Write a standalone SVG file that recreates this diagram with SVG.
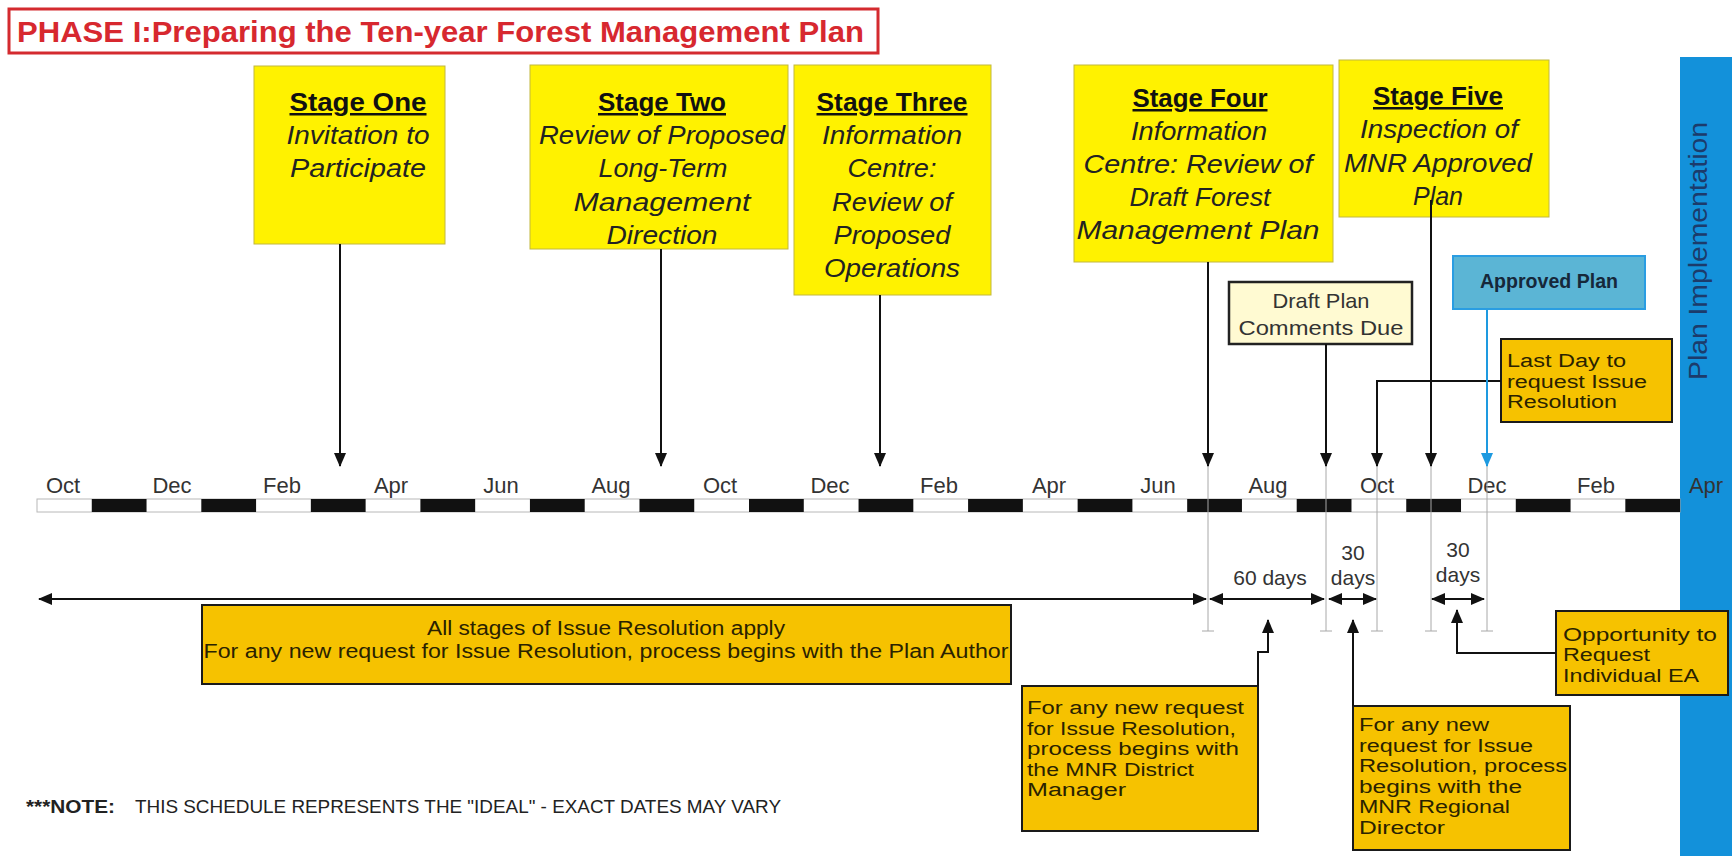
<svg xmlns="http://www.w3.org/2000/svg" width="1732" height="856" viewBox="0 0 1732 856">
  <defs>
    <style>
      text { font-family: "Liberation Sans", Arial, sans-serif; }
      .stage rect { fill: #FFF200; stroke: #C2B83E; stroke-width: 1; }
      .st-title { font-size: 25px; font-weight: bold; fill: #111; text-anchor: middle; text-decoration: underline; }
      .st-line { font-size: 25px; font-style: italic; fill: #222; text-anchor: middle; }
      .note-box rect { fill: #F6C200; stroke: #1a1a1a; stroke-width: 2; }
      .note-box text { font-size: 18px; fill: #2a2200; }
      .month { font-size: 22px; fill: #333; text-anchor: middle; }
      .days { font-size: 21px; fill: #333; text-anchor: middle; }
      .conn { fill: none; stroke: #111; stroke-width: 2; }
      .guide { fill: none; stroke: #A8A8A8; stroke-width: 1; }
    </style>
    <marker id="ah" viewBox="0 0 14 12" refX="13" refY="6" markerWidth="14" markerHeight="12" markerUnits="userSpaceOnUse" orient="auto-start-reverse">
      <path d="M0,0L14,6L0,12z" fill="#111"/>
    </marker>
    <marker id="ahBlue" viewBox="0 0 14 12" refX="13" refY="6" markerWidth="14" markerHeight="12" markerUnits="userSpaceOnUse" orient="auto">
      <path d="M0,0L14,6L0,12z" fill="#1E9AE0"/>
    </marker>
  </defs>

  <rect x="0" y="0" width="1732" height="856" fill="#FFFFFF"/>

  <!-- Heading -->
  <g id="title">
    <rect x="9" y="9" width="869" height="44" fill="#FFFFFF" stroke="#D42A2F" stroke-width="3"/>
    <text x="17" y="42" font-size="30" font-weight="bold" fill="#D7282F" textLength="847" lengthAdjust="spacingAndGlyphs">PHASE I:Preparing the Ten-year Forest Management Plan</text>
  </g>

  <!-- Plan implementation band -->
  <g id="plan-implementation">
    <rect x="1680" y="57" width="52" height="799" fill="#1391DA"/>
    <text transform="translate(1707,251) rotate(-90)" font-size="26" fill="#1C3B6B" text-anchor="middle" textLength="258" lengthAdjust="spacingAndGlyphs">Plan Implementation</text>
  </g>

  <!-- Stage boxes -->
  <g id="stage-one" class="stage">
    <rect x="254" y="66" width="191" height="178"/>
    <text class="st-title" x="358" y="111" textLength="137" lengthAdjust="spacingAndGlyphs">Stage One</text>
    <text class="st-line" x="358" y="144" textLength="143" lengthAdjust="spacingAndGlyphs">Invitation to</text>
    <text class="st-line" x="358" y="177" textLength="136" lengthAdjust="spacingAndGlyphs">Participate</text>
  </g>

  <g id="stage-two" class="stage">
    <rect x="530" y="65" width="258" height="184"/>
    <text class="st-title" x="662" y="111" textLength="128" lengthAdjust="spacingAndGlyphs">Stage Two</text>
    <text class="st-line" x="662" y="144" textLength="246" lengthAdjust="spacingAndGlyphs">Review of Proposed</text>
    <text class="st-line" x="663" y="177" textLength="129" lengthAdjust="spacingAndGlyphs">Long-Term</text>
    <text class="st-line" x="662" y="211" textLength="177" lengthAdjust="spacingAndGlyphs">Management</text>
    <text class="st-line" x="662" y="244" textLength="111" lengthAdjust="spacingAndGlyphs">Direction</text>
  </g>

  <g id="stage-three" class="stage">
    <rect x="794" y="65" width="197" height="230"/>
    <text class="st-title" x="892" y="111" textLength="151" lengthAdjust="spacingAndGlyphs">Stage Three</text>
    <text class="st-line" x="892" y="144" textLength="140" lengthAdjust="spacingAndGlyphs">Information</text>
    <text class="st-line" x="892" y="177" textLength="89" lengthAdjust="spacingAndGlyphs">Centre:</text>
    <text class="st-line" x="892" y="211" textLength="120" lengthAdjust="spacingAndGlyphs">Review of</text>
    <text class="st-line" x="892" y="244" textLength="117" lengthAdjust="spacingAndGlyphs">Proposed</text>
    <text class="st-line" x="892" y="277" textLength="136" lengthAdjust="spacingAndGlyphs">Operations</text>
  </g>

  <g id="stage-four" class="stage">
    <rect x="1074" y="65" width="259" height="197"/>
    <text class="st-title" x="1200" y="107" textLength="135" lengthAdjust="spacingAndGlyphs">Stage Four</text>
    <text class="st-line" x="1199" y="140" textLength="136" lengthAdjust="spacingAndGlyphs">Information</text>
    <text class="st-line" x="1198" y="173" textLength="229" lengthAdjust="spacingAndGlyphs">Centre: Review of</text>
    <text class="st-line" x="1200" y="206" textLength="141" lengthAdjust="spacingAndGlyphs">Draft Forest</text>
    <text class="st-line" x="1198" y="239" textLength="243" lengthAdjust="spacingAndGlyphs">Management Plan</text>
  </g>

  <g id="stage-five" class="stage">
    <rect x="1339" y="60" width="210" height="157"/>
    <text class="st-title" x="1438" y="105" textLength="130" lengthAdjust="spacingAndGlyphs">Stage Five</text>
    <text class="st-line" x="1439" y="138" textLength="158" lengthAdjust="spacingAndGlyphs">Inspection of</text>
    <text class="st-line" x="1438" y="172" textLength="188" lengthAdjust="spacingAndGlyphs">MNR Approved</text>
    <text class="st-line" x="1438" y="205" textLength="50" lengthAdjust="spacingAndGlyphs">Plan</text>
  </g>

  <!-- Milestone boxes -->
  <g id="draft-comments">
    <rect x="1229" y="282" width="183" height="62" fill="#FFFAD2" stroke="#222" stroke-width="2.5"/>
    <text x="1321" y="308" font-size="21" fill="#333" text-anchor="middle" textLength="97" lengthAdjust="spacingAndGlyphs">Draft Plan</text>
    <text x="1321" y="335" font-size="21" fill="#333" text-anchor="middle" textLength="165" lengthAdjust="spacingAndGlyphs">Comments Due</text>
  </g>

  <g id="approved-plan">
    <rect x="1453" y="256" width="192" height="53" fill="#5BB5D5" stroke="#2A9DE2" stroke-width="2"/>
    <text x="1549" y="288" font-size="20" font-weight="bold" fill="#16283A" text-anchor="middle" textLength="138" lengthAdjust="spacingAndGlyphs">Approved Plan</text>
  </g>

  <g id="last-day" class="note-box">
    <rect x="1501" y="339" width="171" height="83"/>
    <text x="1507" y="367" textLength="119" lengthAdjust="spacingAndGlyphs">Last Day to</text>
    <text x="1507" y="387.5" textLength="140" lengthAdjust="spacingAndGlyphs">request Issue</text>
    <text x="1507" y="408" textLength="110" lengthAdjust="spacingAndGlyphs">Resolution</text>
  </g>

  <!-- Timeline bar -->
  <g id="timeline">
    <rect x="37" y="499" width="1643" height="13" fill="#FFFFFF" stroke="#B8B8B8" stroke-width="1"/>
    <g fill="#111">
      <rect x="91.77" y="499" width="54.77" height="13"/>
      <rect x="201.31" y="499" width="54.77" height="13"/>
      <rect x="310.85" y="499" width="54.77" height="13"/>
      <rect x="420.39" y="499" width="54.77" height="13"/>
      <rect x="529.93" y="499" width="54.77" height="13"/>
      <rect x="639.47" y="499" width="54.77" height="13"/>
      <rect x="749.01" y="499" width="54.77" height="13"/>
      <rect x="858.55" y="499" width="54.77" height="13"/>
      <rect x="968.09" y="499" width="54.77" height="13"/>
      <rect x="1077.63" y="499" width="54.77" height="13"/>
      <rect x="1187.17" y="499" width="54.77" height="13"/>
      <rect x="1296.71" y="499" width="54.77" height="13"/>
      <rect x="1406.25" y="499" width="54.77" height="13"/>
      <rect x="1515.79" y="499" width="54.77" height="13"/>
      <rect x="1625.33" y="499" width="54.77" height="13"/>
    </g>
    <text class="month" x="63" y="493">Oct</text>
    <text class="month" x="172" y="493">Dec</text>
    <text class="month" x="282" y="493">Feb</text>
    <text class="month" x="391" y="493">Apr</text>
    <text class="month" x="501" y="493">Jun</text>
    <text class="month" x="611" y="493">Aug</text>
    <text class="month" x="720" y="493">Oct</text>
    <text class="month" x="830" y="493">Dec</text>
    <text class="month" x="939" y="493">Feb</text>
    <text class="month" x="1049" y="493">Apr</text>
    <text class="month" x="1158" y="493">Jun</text>
    <text class="month" x="1268" y="493">Aug</text>
    <text class="month" x="1377" y="493">Oct</text>
    <text class="month" x="1487" y="493">Dec</text>
    <text class="month" x="1596" y="493">Feb</text>
    <text class="month" x="1706" y="493" fill="#1C3B6B">Apr</text>
  </g>

  <!-- Period labels -->
  <g id="periods">
    <text class="days" x="1270" y="585">60 days</text>
    <text class="days" x="1353" y="560">30</text>
    <text class="days" x="1353" y="585">days</text>
    <text class="days" x="1458" y="557">30</text>
    <text class="days" x="1458" y="582">days</text>
  </g>

  <!-- Issue resolution boxes -->
  <g id="all-stages" class="note-box">
    <rect x="202" y="605" width="809" height="79"/>
    <text x="606" y="635" style="font-size:20px" text-anchor="middle" textLength="358" lengthAdjust="spacingAndGlyphs">All stages of Issue Resolution apply</text>
    <text x="606" y="658" style="font-size:20px" text-anchor="middle" textLength="805" lengthAdjust="spacingAndGlyphs">For any new request for Issue Resolution, process begins with the Plan Author</text>
  </g>

  <g id="district-manager" class="note-box">
    <rect x="1022" y="686" width="236" height="145"/>
    <text x="1027" y="714" textLength="217" lengthAdjust="spacingAndGlyphs">For any new request</text>
    <text x="1027" y="734.5" textLength="209" lengthAdjust="spacingAndGlyphs">for Issue Resolution,</text>
    <text x="1027" y="755" textLength="212" lengthAdjust="spacingAndGlyphs">process begins with</text>
    <text x="1027" y="775.5" textLength="167" lengthAdjust="spacingAndGlyphs">the MNR District</text>
    <text x="1027" y="796" textLength="99" lengthAdjust="spacingAndGlyphs">Manager</text>
  </g>

  <g id="regional-director" class="note-box">
    <rect x="1353" y="706" width="217" height="144"/>
    <text x="1359" y="731" textLength="130" lengthAdjust="spacingAndGlyphs">For any new</text>
    <text x="1359" y="751.6" textLength="174" lengthAdjust="spacingAndGlyphs">request for Issue</text>
    <text x="1359" y="772.2" textLength="208" lengthAdjust="spacingAndGlyphs">Resolution, process</text>
    <text x="1359" y="792.8" textLength="163" lengthAdjust="spacingAndGlyphs">begins with the</text>
    <text x="1359" y="813.4" textLength="151" lengthAdjust="spacingAndGlyphs">MNR Regional</text>
    <text x="1359" y="834" textLength="86" lengthAdjust="spacingAndGlyphs">Director</text>
  </g>

  <g id="individual-ea" class="note-box">
    <rect x="1556" y="611" width="172" height="84"/>
    <text x="1563" y="640.5" textLength="154" lengthAdjust="spacingAndGlyphs">Opportunity to</text>
    <text x="1563" y="661" textLength="87" lengthAdjust="spacingAndGlyphs">Request</text>
    <text x="1563" y="681.5" textLength="136" lengthAdjust="spacingAndGlyphs">Individual EA</text>
  </g>

  <!-- Footnote -->
  <g id="footnote">
    <text y="813" font-size="18" fill="#222"><tspan x="26" font-weight="bold" textLength="89" lengthAdjust="spacingAndGlyphs">***NOTE:</tspan><tspan x="135" textLength="646" lengthAdjust="spacingAndGlyphs">THIS SCHEDULE REPRESENTS THE "IDEAL" - EXACT DATES MAY VARY</tspan></text>
  </g>

  <!-- Connectors -->
  <g id="connectors">
    <!-- date guides below the bar -->
    <path class="guide" d="M1208,466V631M1202,631H1214"/>
    <path class="guide" d="M1326,466V631M1320,631H1332"/>
    <path class="guide" d="M1377,466V631M1371,631H1383"/>
    <path class="guide" d="M1431,466V631M1425,631H1437"/>
    <path class="guide" d="M1487,466V631M1481,631H1493"/>

    <!-- stage pointers -->
    <path class="conn" d="M340,244V466" marker-end="url(#ah)"/>
    <path class="conn" d="M661,249V466" marker-end="url(#ah)"/>
    <path class="conn" d="M880,295V466" marker-end="url(#ah)"/>
    <path class="conn" d="M1208,262V466" marker-end="url(#ah)"/>
    <path class="conn" d="M1326,344V466" marker-end="url(#ah)"/>
    <path class="conn" d="M1501,381H1377V466" marker-end="url(#ah)"/>
    <path class="conn" d="M1431,200V466" marker-end="url(#ah)"/>
    <path d="M1487,310V466" fill="none" stroke="#1E9AE0" stroke-width="2" marker-end="url(#ahBlue)"/>

    <!-- periods -->
    <path class="conn" d="M39,599H1206" marker-start="url(#ah)" marker-end="url(#ah)"/>
    <path class="conn" d="M1210,599H1324" marker-start="url(#ah)" marker-end="url(#ah)"/>
    <path class="conn" d="M1329,599H1376" marker-start="url(#ah)" marker-end="url(#ah)"/>
    <path class="conn" d="M1432,599H1484" marker-start="url(#ah)" marker-end="url(#ah)"/>

    <!-- callouts into the periods -->
    <path class="conn" d="M1258,686V652H1268V620" marker-end="url(#ah)"/>
    <path class="conn" d="M1353,706V620" marker-end="url(#ah)"/>
    <path class="conn" d="M1556,653H1457V610" marker-end="url(#ah)"/>
  </g>
</svg>
